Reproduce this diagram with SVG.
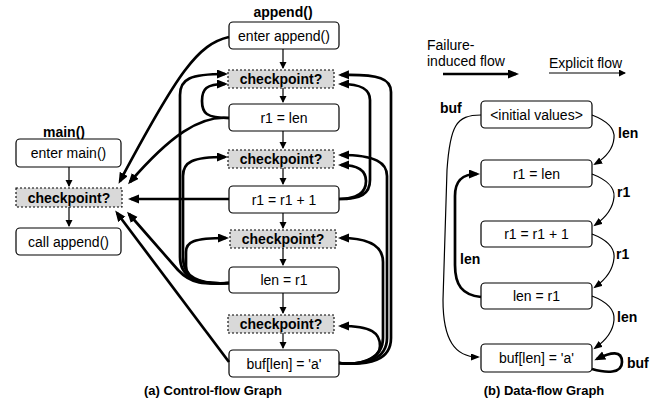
<svg xmlns="http://www.w3.org/2000/svg" width="664" height="402" viewBox="0 0 664 402">
<defs>
<marker id="ah" markerUnits="userSpaceOnUse" markerWidth="8" markerHeight="8" refX="6" refY="3.5" orient="auto"><path d="M0,0 L7,3.5 L0,7 z" fill="#000"/></marker>
<marker id="ahT" markerUnits="userSpaceOnUse" markerWidth="12" markerHeight="10" refX="8" refY="4.5" orient="auto"><path d="M0,0 L11,4.5 L0,9 z" fill="#000"/></marker>
<marker id="ahS" markerUnits="userSpaceOnUse" markerWidth="10" markerHeight="8" refX="7" refY="3.5" orient="auto"><path d="M0,0 L9,3.5 L0,7 z" fill="#000"/></marker>
</defs>
<style>
text{font-family:"Liberation Sans",Arial,Helvetica,sans-serif;fill:#000}
.box{fill:#fff;stroke:#000;stroke-width:1.2}
.cp{fill:#d9d9d9;stroke:#000;stroke-width:1.1;stroke-dasharray:2 2}
.t{font-size:14px;text-anchor:middle}
.tb{font-size:14px;font-weight:bold;text-anchor:middle}
.lb{font-size:14px;font-weight:bold}
.cap{font-size:13px;font-weight:bold;text-anchor:middle}
.leg{font-size:14px}
.thin{fill:none;stroke:#000;stroke-width:1.2;marker-end:url(#ah)}
.thick{fill:none;stroke:#000;stroke-width:2.7;marker-end:url(#ahT)}
.dthin{fill:none;stroke:#000;stroke-width:1.2;marker-end:url(#ahS)}
</style>

<!-- Control-flow graph nodes: main -->
<text class="tb" x="64" y="137">main()</text>
<g id="main_enter"><rect class="box" x="16" y="139" width="105" height="28" rx="4"/><text class="t" x="68.5" y="158">enter main()</text></g>
<g id="main_cp"><rect class="cp" x="16" y="188" width="106" height="19"/><text class="tb" x="69" y="202.5">checkpoint?</text></g>
<g id="main_call"><rect class="box" x="16" y="228" width="105" height="27" rx="4"/><text class="t" x="68.5" y="246.5">call append()</text></g>

<!-- append -->
<text class="tb" x="283" y="17">append()</text>
<g id="a_enter"><rect class="box" x="229" y="22" width="110" height="27" rx="4"/><text class="t" x="284" y="40.5">enter append()</text></g>
<g id="a_cp1"><rect class="cp" x="228" y="70" width="106" height="18"/><text class="tb" x="281" y="84">checkpoint?</text></g>
<g id="a_r1len"><rect class="box" x="229" y="104" width="110" height="27" rx="4"/><text class="t" x="284" y="122.5">r1 = len</text></g>
<g id="a_cp2"><rect class="cp" x="228" y="150" width="106" height="18"/><text class="tb" x="281" y="164">checkpoint?</text></g>
<g id="a_r1inc"><rect class="box" x="229" y="186" width="110" height="27" rx="4"/><text class="t" x="284" y="204.5">r1 = r1 + 1</text></g>
<g id="a_cp3"><rect class="cp" x="230" y="230" width="106" height="18"/><text class="tb" x="283" y="244">checkpoint?</text></g>
<g id="a_lenr1"><rect class="box" x="229" y="267" width="110" height="26" rx="4"/><text class="t" x="284" y="285">len = r1</text></g>
<g id="a_cp4"><rect class="cp" x="228" y="315" width="106" height="18"/><text class="tb" x="281" y="329">checkpoint?</text></g>
<g id="a_buf"><rect class="box" x="229" y="350" width="110" height="27" rx="4"/><text class="t" x="284" y="368.5">buf[len] = 'a'</text></g>

<text class="cap" x="213" y="395">(a) Control-flow Graph</text>

<!-- Data-flow graph nodes -->
<g id="d_init"><rect class="box" x="481" y="101" width="111" height="27" rx="4"/><text class="t" x="536.5" y="119.5">&lt;initial values&gt;</text></g>
<g id="d_r1len"><rect class="box" x="481" y="160" width="111" height="27" rx="4"/><text class="t" x="536.5" y="178.5">r1 = len</text></g>
<g id="d_r1inc"><rect class="box" x="481" y="221" width="111" height="26" rx="4"/><text class="t" x="536.5" y="239">r1 = r1 + 1</text></g>
<g id="d_lenr1"><rect class="box" x="481" y="283" width="111" height="26" rx="4"/><text class="t" x="536.5" y="301">len = r1</text></g>
<g id="d_buf"><rect class="box" x="481" y="344" width="111" height="28" rx="4"/><text class="t" x="536.5" y="363">buf[len] = 'a'</text></g>

<text class="cap" x="544" y="395">(b) Data-flow Graph</text>

<!-- Legend -->
<g id="legend">
<text class="leg" x="427" y="50">Failure-</text>
<text class="leg" x="427" y="66">induced flow</text>
<path class="thick" d="M443,74 L516,74"/>
<text class="leg" x="549" y="68">Explicit flow</text>
<path class="thin" d="M549,73 L625,73"/>
</g>

<g id="connectors">
<!-- explicit CFG edges -->
<path class="thin" d="M69,167 L69,186"/>
<path class="thin" d="M69,207 L69,226"/>
<path class="thin" d="M283,49 L283,68"/>
<path class="thin" d="M283,88 L283,102"/>
<path class="thin" d="M283,131 L283,148"/>
<path class="thin" d="M283,168 L283,184"/>
<path class="thin" d="M283,213 L283,228"/>
<path class="thin" d="M283,248 L283,265"/>
<path class="thin" d="M283,293 L283,313"/>
<path class="thin" d="M283,333 L283,348"/>

<!-- failure-induced edges to main checkpoint -->
<path class="thick" d="M229,37 C198,44 178,72 120,181"/>
<path class="thick" d="M229,118 C200,115 170,136 130,182"/>
<path class="thick" d="M229,199 L131,199"/>
<path class="thick" d="M229,283 C205,284 192,285 178,270 L129,214"/>
<path class="thick" d="M229,362 L117,213"/>

<!-- left loops -->
<path class="thick" d="M229,118 C206,118 202,113 202,101 C202,89 206,84 225,84"/>
<path class="thick" d="M229,283 C196,285 180,277 180,257 L180,95 C180,79 190,74 225,74"/>
<path class="thick" d="M229,283 C198,285 183,277 183,257 L183,176 C183,162 192,157 225,157"/>
<path class="thick" d="M229,283 C201,285 186,280 186,266 L186,252 C186,242 193,238 226,238"/>

<!-- right loops -->
<path class="thick" d="M339,199 C361,199 370,194 370,180 L370,100 C370,89 361,84 341,84"/>
<path class="thick" d="M339,199 C358,199 366,192 366,181 C366,171 358,165 341,165"/>
<path class="thick" d="M339,363 C370,366 391,360 391,338 L391,92 C391,79 380,74 341,75"/>
<path class="thick" d="M339,363 C368,366 387,358 387,338 L387,176 C387,163 376,155 341,155"/>
<path class="thick" d="M339,363 C366,366 383,356 383,338 L383,262 C383,246 370,238 341,238"/>
<path class="thick" d="M339,363 C365,366 380,357 380,346 C380,333 372,326 341,326"/>

<!-- data-flow edges -->
<path class="dthin" d="M592,115 C605,120 615,128 614,138 C613,150 605,158 595,164"/>
<path class="dthin" d="M592,174 C605,179 615,187 614,197 C613,209 605,218 595,225"/>
<path class="dthin" d="M592,234 C605,239 615,247 614,258 C613,270 605,280 595,287"/>
<path class="dthin" d="M592,296 C605,301 615,309 614,320 C613,333 605,341 595,348"/>
<path class="dthin" d="M481,115 C456,115 450,126 447,170 L443,300 C443,340 455,357 478,357"/>
<path class="thick" d="M481,297 C462,295 455,285 455,265 L455,196 C455,181 462,174 477,174"/>
<path class="thick" d="M592,369 C606,373 622,374 622,362 C622,350 611,352 597,359"/>
</g>

<g id="edge-labels">
<text class="lb" x="618" y="138">len</text>
<text class="lb" x="617" y="197">r1</text>
<text class="lb" x="616" y="259">r1</text>
<text class="lb" x="617" y="322">len</text>
<text class="lb" x="460" y="264">len</text>
<text class="lb" x="440" y="113">buf</text>
<text class="lb" x="627" y="368">buf</text>
</g>
</svg>
